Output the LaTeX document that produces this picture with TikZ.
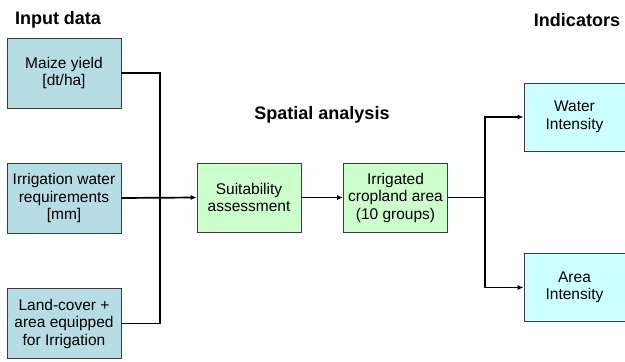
\documentclass[tikz,border=0pt]{standalone}
\usepackage{fontspec}
\setmainfont{Liberation Sans}
\usetikzlibrary{arrows.meta}
\definecolor{inblue}{RGB}{183,221,228}
\definecolor{spgreen}{RGB}{204,255,204}
\definecolor{indcyan}{RGB}{204,255,255}
\definecolor{bordergray}{RGB}{60,60,60}
\tikzset{
  box/.style={draw=bordergray, line width=0.8pt, align=center, inner sep=0pt,
    font=\fontsize{15.5}{17.5}\selectfont},
  inbox/.style={box, fill=inblue, minimum width=114pt, minimum height=70pt},
  spbox/.style={box, fill=spgreen, minimum width=104pt, minimum height=69pt},
  indbox/.style={box, fill=indcyan, minimum width=101pt, minimum height=68pt},
  heading/.style={font=\fontsize{18}{20}\selectfont\bfseries, inner sep=0pt},
  conn/.style={line width=1.7pt, draw=black},
  arr/.style={conn, -{Latex[length=6pt,width=5pt]}}
}
\begin{document}
\begin{tikzpicture}[x=1pt,y=-1pt]
\useasboundingbox (0,0) rectangle (625,362);
\node[heading] (h1) at (58,20) {Input data};
\node[heading] (h2) at (322,115) {Spatial analysis};
\node[heading] (h3) at (577,20) {Indicators};

\node[inbox] (maize) at (64,73) {Maize yield\\{[dt/ha]}};
\node[inbox] (irr) at (64,198) {Irrigation water\\requirements\\{[mm]}};
\node[inbox] (land) at (64,323.5) {Land-cover +\\area equipped\\for Irrigation};

\node[spbox] (suit) at (249,197.5) {Suitability\\assessment};
\node[spbox] (crop) at (395.5,197.5) {Irrigated\\cropland area\\(10 groups)};

\node[indbox] (water) at (574.5,117) {Water\\Intensity};
\node[indbox] (area) at (574.5,287.5) {Area\\Intensity};

\coordinate (jl) at (160,197.5);
\coordinate (jr) at (485,197.5);

\draw[conn] (maize.east) -| (jl);
\draw[conn] (land.east) -| (jl);
\draw[arr] (irr.east) -- (suit.west);
\draw[arr] (suit.east) -- (crop.west);
\draw[conn] (crop.east) -- (jr);
\draw[arr] (jr) |- (water.west);
\draw[arr] (jr) |- (area.west);
\end{tikzpicture}
\end{document}
